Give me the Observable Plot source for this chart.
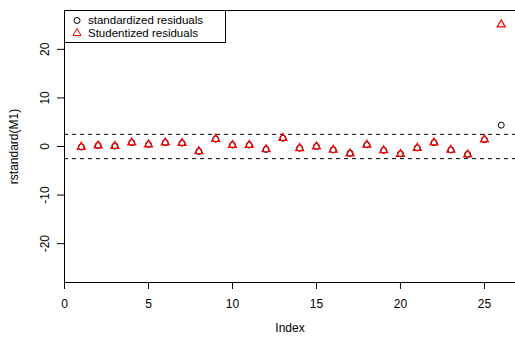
<!DOCTYPE html>
<html>
<head>
<meta charset="utf-8">
<script src="https://cdn.jsdelivr.net/npm/d3@7"></script>
<script src="https://cdn.jsdelivr.net/npm/@observablehq/plot@0.6"></script>
<style>
  body { margin: 0; background: #fff; overflow: hidden; }
  #wrap { position: relative; width: 515px; height: 338px; font-family: "Liberation Sans", Arial, sans-serif; }
  #legend { position: absolute; left: 64px; top: 10px; width: 160px; height: 31px; border: 1px solid #000; background: #fff; font-size: 11.5px; }
  .li { position: absolute; left: 0; height: 12px; line-height: 12px; white-space: nowrap; }
  .li svg { position: absolute; left: 6px; top: -0.5px; }
  .li span { position: absolute; left: 23px; top: 0; color: #000; }
</style>
</head>
<body>
<div id="wrap"></div>
<script>
const index = [1,2,3,4,5,6,7,8,9,10,11,12,13,14,15,16,17,18,19,20,21,22,23,24,25,26];
const standardized = [-0.1,0.2,0.1,0.8,0.4,0.8,0.7,-1.0,1.5,0.3,0.3,-0.6,1.7,-0.35,0.0,-0.7,-1.4,0.35,-0.8,-1.5,-0.3,0.8,-0.7,-1.6,1.4,4.4];
const studentized = [-0.1,0.2,0.1,0.8,0.4,0.8,0.7,-1.0,1.55,0.3,0.3,-0.6,1.75,-0.35,0.0,-0.7,-1.45,0.35,-0.8,-1.55,-0.3,0.8,-0.7,-1.65,1.45,25.1];
const xTicks = [0,5,10,15,20,25];
const yTicks = [-20,-10,0,10,20];
const cutoffs = [-2.5, 2.5];
const legendLabels = ["standardized residuals", "Studentized residuals"];

const dataStd = index.map((i, k) => ({i, v: standardized[k]}));
const dataStu = index.map((i, k) => ({i, v: studentized[k]}));

const chart = Plot.plot({
  width: 515,
  height: 338,
  marginLeft: 64,
  marginRight: 0,
  marginTop: 10,
  marginBottom: 56,
  style: { fontFamily: "'Liberation Sans', Arial, sans-serif", fontSize: "12px", background: "#fff", overflow: "visible" },
  x: { domain: [0, 26.85] },
  y: { domain: [-28, 28] },
  marks: [
    Plot.ruleY(cutoffs, { stroke: "#000", strokeDasharray: "4,4", strokeWidth: 1 }),
    Plot.ruleY([28, -28], { stroke: "#000", strokeWidth: 1 }),
    Plot.ruleX([0], { stroke: "#000", strokeWidth: 1 }),
    Plot.axisX({ ticks: xTicks, tickSize: 7, tickFormat: () => "", label: null, stroke: "#000" }),
    Plot.axisY({ ticks: yTicks, tickSize: 7, tickFormat: () => "", label: null, stroke: "#000" }),
    Plot.text(xTicks, { x: d => d, frameAnchor: "bottom", dy: 22, lineAnchor: "middle", fill: "#000", fontSize: 12 }),
    Plot.text(yTicks, { y: d => d, frameAnchor: "left", dx: -19, rotate: -90, textAnchor: "middle", lineAnchor: "middle", fill: "#000", fontSize: 12 }),
    Plot.text(["Index"], { frameAnchor: "bottom", dy: 46, lineAnchor: "middle", fill: "#000", fontSize: 12 }),
    Plot.text(["rstandard(M1)"], { frameAnchor: "left", dx: -50, rotate: -90, textAnchor: "middle", lineAnchor: "middle", fill: "#000", fontSize: 12 }),
    Plot.dot(dataStd, { x: "i", y: "v", r: 3, stroke: "#000", fill: "none", strokeWidth: 1 }),
    Plot.dot(dataStu, { x: "i", y: "v", r: 3, symbol: "triangle", stroke: "#ff0000", fill: "none", strokeWidth: 1.2 })
  ]
});
const wrap = document.getElementById("wrap");
wrap.appendChild(chart);

const legend = document.createElement("div");
legend.id = "legend";
const syms = [
  '<svg width="12" height="13"><circle cx="6" cy="6.5" r="3" fill="none" stroke="#000"/></svg>',
  '<svg width="12" height="13"><path d="M6,2.5 L10,9.5 L2,9.5 Z" fill="none" stroke="#ff0000"/></svg>'
];
legendLabels.forEach((lab, k) => {
  const row = document.createElement("div");
  row.className = "li";
  row.style.top = (3.3 + k * 12.5) + "px";
  row.innerHTML = syms[k] + "<span>" + lab + "</span>";
  legend.appendChild(row);
});
wrap.appendChild(legend);
</script>
</body>
</html>
